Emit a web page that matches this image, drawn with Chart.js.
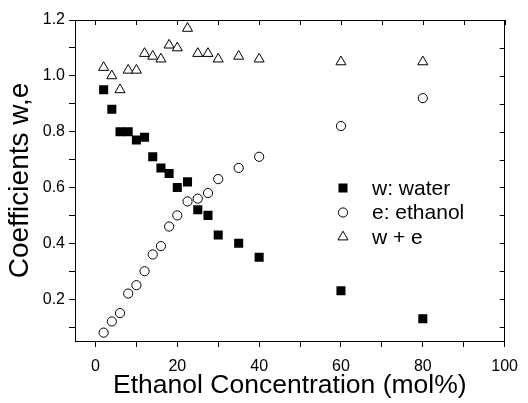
<!DOCTYPE html>
<html>
<head>
<meta charset="utf-8">
<script src="https://cdn.jsdelivr.net/npm/chart.js@4.4.1/dist/chart.umd.min.js"></script>
<style>
  html, body { margin: 0; padding: 0; background: #fff; }
  #wrap { width: 528px; height: 403px; }
</style>
</head>
<body>
<div id="wrap"><canvas id="chart" width="528" height="403"></canvas></div>
<script>
  var ethanolConc = [2, 4, 6, 8, 10, 12, 14, 16, 18, 20, 22.5, 25, 27.5, 30, 35, 40, 60, 80];
  var waterCoef = [0.95, 0.88, 0.80, 0.80, 0.77, 0.78, 0.71, 0.67, 0.65, 0.60, 0.62, 0.52, 0.50, 0.43, 0.40, 0.35, 0.23, 0.13];
  var ethanolCoef = [0.08, 0.12, 0.15, 0.22, 0.25, 0.30, 0.36, 0.39, 0.46, 0.50, 0.55, 0.56, 0.58, 0.63, 0.67, 0.71, 0.82, 0.92];
  var sumCoef = [1.03, 1.00, 0.95, 1.02, 1.02, 1.08, 1.07, 1.06, 1.11, 1.10, 1.17, 1.08, 1.08, 1.06, 1.07, 1.06, 1.05, 1.05];
  var seriesNames = ['w: water', 'e: ethanol', 'w + e'];

  var xTicks = [0, 10, 20, 30, 40, 50, 60, 70, 80, 90, 100];
  var xTickLabels = ['0', '20', '40', '60', '80', '100'];
  var yTicks = [0.1, 0.2, 0.3, 0.4, 0.5, 0.6, 0.7, 0.8, 0.9, 1.0, 1.1, 1.2];
  var yTickLabels = ['0.2', '0.4', '0.6', '0.8', '1.0', '1.2'];

  var FONT = '"Liberation Sans", Arial, sans-serif';

  function pts(ys) {
    return ys.map(function (v, i) {
      return { x: ethanolConc[i], y: v };
    });
  }

  function findLabel(list, v, digits) {
    var s = digits ? v.toFixed(digits) : String(Math.round(v));
    return list.indexOf(s) !== -1 ? s : '';
  }

  function drawMarker(ctx, style, x, y) {
    ctx.beginPath();
    if (style === 'rect') {
      ctx.fillStyle = '#000';
      ctx.fillRect(x - 4.5, y - 4.5, 9, 9);
      return;
    }
    if (style === 'circle') {
      ctx.arc(x, y, 4.6, 0, Math.PI * 2);
    } else {
      var r = 5.8;
      ctx.moveTo(x, y - r);
      ctx.lineTo(x + r * 0.866, y + r * 0.5);
      ctx.lineTo(x - r * 0.866, y + r * 0.5);
      ctx.closePath();
    }
    ctx.fillStyle = '#fff';
    ctx.fill();
    ctx.strokeStyle = '#000';
    ctx.lineWidth = 1;
    ctx.stroke();
  }

  // frame on top/right with inward ticks, plus the legend inside the plot
  var framePlugin = {
    id: 'frame',
    afterDraw: function (chart) {
      var ctx = chart.ctx, a = chart.chartArea;
      var xs = chart.scales.x, ys = chart.scales.y;
      ctx.save();
      ctx.strokeStyle = '#000';
      ctx.lineWidth = 1;
      ctx.beginPath();
      ctx.moveTo(a.left, Math.round(a.top) + 0.5);
      ctx.lineTo(a.right, Math.round(a.top) + 0.5);
      ctx.moveTo(Math.round(a.right) - 0.5, a.top);
      ctx.lineTo(Math.round(a.right) - 0.5, a.bottom);
      xs.ticks.forEach(function (t) {
        var px = Math.round(xs.getPixelForValue(t.value)) + 0.5;
        ctx.moveTo(px, a.top);
        ctx.lineTo(px, a.top + 5);
      });
      ys.ticks.forEach(function (t) {
        var py = Math.round(ys.getPixelForValue(t.value)) + 0.5;
        ctx.moveTo(a.right, py);
        ctx.lineTo(a.right - 5, py);
      });
      ctx.stroke();

      var styles = ['rect', 'circle', 'triangle'];
      ctx.font = '21px ' + FONT;
      ctx.textBaseline = 'middle';
      seriesNames.forEach(function (name, i) {
        var y = 188 + i * 24.5;
        drawMarker(ctx, styles[i], 343, y);
        ctx.fillStyle = '#000';
        ctx.fillText(name, 372, y + 1);
      });
      ctx.restore();
    }
  };

  new Chart(document.getElementById('chart'), {
    type: 'scatter',
    data: {
      datasets: [
        {
          label: seriesNames[0],
          data: pts(waterCoef),
          pointStyle: 'rect',
          pointRadius: 6.4,
          backgroundColor: '#000',
          borderColor: '#000',
          borderWidth: 0
        },
        {
          label: seriesNames[1],
          data: pts(ethanolCoef),
          pointStyle: 'circle',
          pointRadius: 4.6,
          backgroundColor: '#fff',
          borderColor: '#000',
          borderWidth: 1
        },
        {
          label: seriesNames[2],
          data: pts(sumCoef),
          pointStyle: 'triangle',
          pointRadius: 5.8,
          backgroundColor: '#fff',
          borderColor: '#000',
          borderWidth: 1
        }
      ]
    },
    options: {
      responsive: false,
      animation: false,
      devicePixelRatio: 1,
      layout: { padding: { top: 20, right: 17, left: 0, bottom: 0 } },
      plugins: { legend: { display: false }, tooltip: { enabled: false } },
      scales: {
        x: {
          type: 'linear',
          min: -5,
          max: 100,
          afterBuildTicks: function (s) {
            s.ticks = xTicks.map(function (v) { return { value: v }; });
          },
          afterFit: function (s) { s.height = 62; },
          grid: { drawOnChartArea: false, drawTicks: true, tickLength: 6, color: '#000', tickColor: '#000' },
          border: { display: true, color: '#000', width: 1 },
          ticks: {
            color: '#000',
            font: { family: FONT, size: 16 },
            padding: 10,
            maxRotation: 0,
            autoSkip: false,
            callback: function (v) { return findLabel(xTickLabels, v, 0); }
          },
          title: {
            display: true,
            text: 'Ethanol Concentration (mol%)',
            color: '#000',
            font: { family: FONT, size: 26.5 },
            padding: { top: 0, bottom: 1 }
          }
        },
        y: {
          type: 'linear',
          min: 0.05,
          max: 1.2,
          afterBuildTicks: function (s) {
            s.ticks = yTicks.map(function (v) { return { value: v }; });
          },
          afterFit: function (s) { s.width = 75; },
          grid: { drawOnChartArea: false, drawTicks: true, tickLength: 6, color: '#000', tickColor: '#000' },
          border: { display: true, color: '#000', width: 1 },
          ticks: {
            color: '#000',
            font: { family: FONT, size: 16 },
            padding: 4,
            autoSkip: false,
            callback: function (v) { return findLabel(yTickLabels, v, 1); }
          },
          title: {
            display: true,
            text: 'Coefficients w,e',
            color: '#000',
            font: { family: FONT, size: 28 },
            padding: { top: 3, bottom: 0 }
          }
        }
      }
    },
    plugins: [framePlugin]
  });
</script>
</body>
</html>
